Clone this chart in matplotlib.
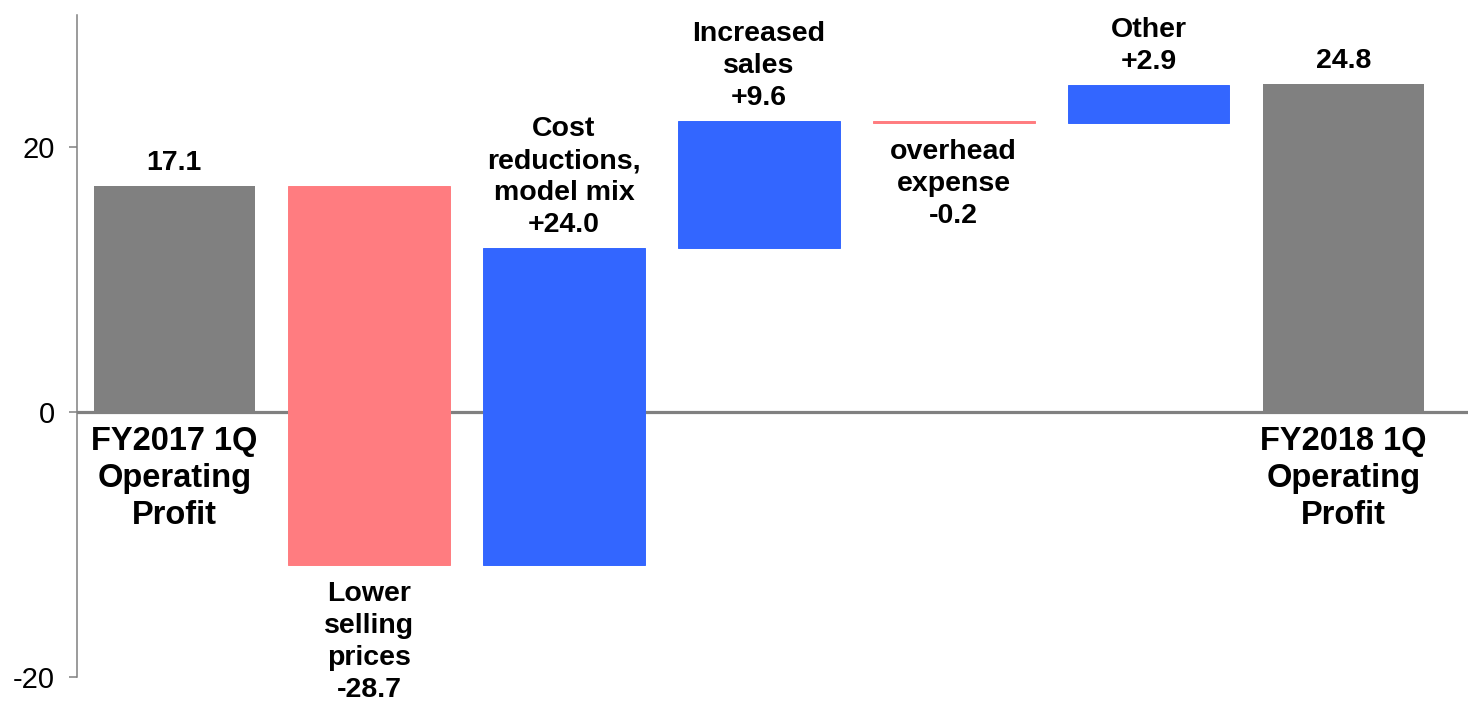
import matplotlib.pyplot as plt
import numpy as np

plt.rcParams['font.family'] = ['Liberation Sans', 'DejaVu Sans']
plt.rcParams['axes.unicode_minus'] = False

# operating profit bridge, FY2017 1Q -> FY2018 1Q
start_value = 17.1
end_value = 24.8
changes = [-28.7, 24.0, 9.6, -0.2, 2.9]
change_labels = ["Lower\nselling\nprices", "Cost\nreductions,\nmodel mix",
                 "Increased\nsales", "overhead\nexpense", "Other"]
total_labels = ["FY2017 1Q\nOperating\nProfit", "FY2018 1Q\nOperating\nProfit"]

GRAY = "#808080"
RED = "#FF7C80"
BLUE = "#3366FF"

fig = plt.figure(figsize=(14.74, 7.09), dpi=100)
ax = fig.add_axes([0.0522, 0.0456, 0.9438, 0.9334])

x = np.arange(len(changes) + 2)
width = 0.83

# floating bars: each change starts where the previous one ended
level = start_value
bottoms = []
for c in changes:
    bottoms.append(level)
    level += c

ax.axhline(0, color=GRAY, lw=2.3, zorder=1)

ax.bar(x[0], start_value, width, color=GRAY, zorder=2)
ax.bar(x[-1], end_value, width, color=GRAY, zorder=2)
for i, (b, c) in enumerate(zip(bottoms, changes)):
    col = BLUE if c > 0 else RED
    ax.bar(x[i + 1], c, width, bottom=b, color=col, edgecolor=col, lw=0.7, zorder=2)

lab_kw = dict(fontsize=20.5, fontweight='bold', ha='center', linespacing=1.3,
              textcoords='offset points')

ax.annotate(f"{start_value:.1f}", (x[0], start_value), xytext=(0, 7), va='bottom', **lab_kw)
ax.annotate(f"{end_value:.1f}", (x[-1], end_value), xytext=(0, 7), va='bottom', **lab_kw)

for i, (b, c, name) in enumerate(zip(bottoms, changes, change_labels)):
    text = f"{name}\n{c:+.1f}"
    if c > 0:
        ax.annotate(text, (x[i + 1], b + c), xytext=(0, 7), va='bottom', **lab_kw)
    else:
        ax.annotate(text, (x[i + 1], b + c), xytext=(0, -11), va='top', **lab_kw)

for xi, name in zip([x[0], x[-1]], total_labels):
    ax.annotate(name, (xi, 0), xytext=(0, -10), textcoords='offset points',
                ha='center', va='top', fontsize=23.5, fontweight='bold', linespacing=1.25)

ax.set_xlim(-0.5, 6.64)
ax.set_ylim(-20, 30)
ax.set_yticks([-20, 0, 20])
ax.set_xticks([])

for s in ['top', 'right', 'bottom']:
    ax.spines[s].set_visible(False)
ax.spines['left'].set_color(GRAY)
ax.spines['left'].set_linewidth(1.1)
ax.tick_params(axis='y', colors=GRAY, labelcolor='black', labelsize=21,
               length=6, width=1.1, pad=10)

fig.savefig("out.png", dpi=100)
